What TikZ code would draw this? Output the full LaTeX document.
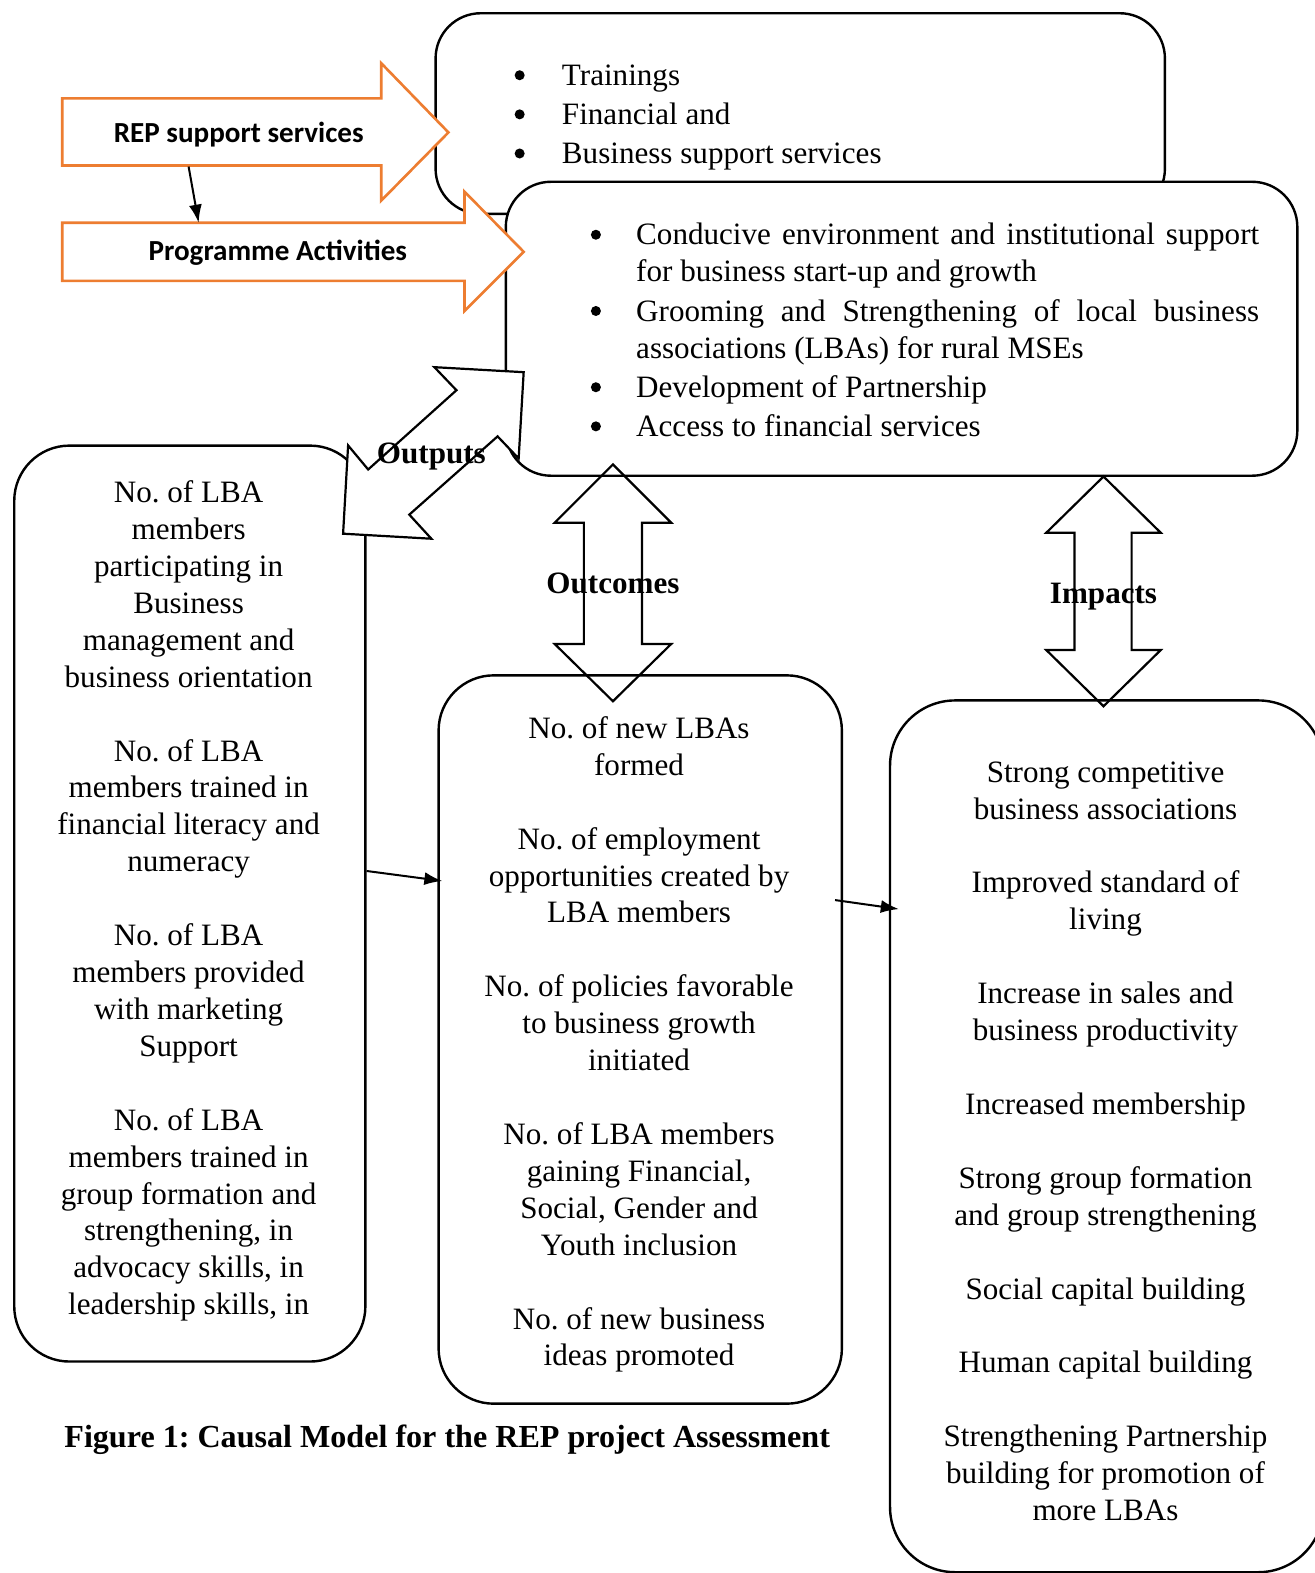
\documentclass[tikz,border=0pt]{standalone}
\usepackage{fontspec}
\setmainfont{Liberation Serif}
\newfontfamily\calibfont{Carlito}
\usetikzlibrary{arrows.meta}
\definecolor{arroworange}{RGB}{237,125,49}
\frenchspacing
\begin{document}
\begin{tikzpicture}[x=1pt,y=-1pt,
  box/.style={draw, line width=2.4pt, rounded corners=#1, inner sep=0pt, anchor=north west},
  box/.default=45pt,
  txt/.style={font=\fontsize{31}{36.8}\selectfont, inner sep=0pt, align=center},
  line/.style={font=\fontsize{31}{36.8}\selectfont, inner sep=0pt},
  dot/.style={circle, fill, inner sep=0pt, minimum size=10pt},
  lbl/.style={font=\fontsize{31}{36.8}\selectfont\bfseries, inner sep=0pt, anchor=base},
  blockarrow/.style={draw, line width=2.2pt, line join=miter},
  orangearrow/.style={draw=arroworange, line width=2.6pt, fill=white, line join=miter},
  orangelbl/.style={font=\fontsize{29}{34}\selectfont\calibfont\bfseries, inner sep=0pt, anchor=base},
  conn/.style={-{Latex[length=18pt,width=13pt]}, line width=2pt}]

\useasboundingbox (0,0) rectangle (1310,1568);

% boxes
\node[box, minimum width=727pt, minimum height=200pt] (topbox) at (433,12) {};
\node[box, fill=white, minimum width=789pt, minimum height=293pt] (actbox) at (503,180) {};
\node[box=55pt, minimum width=350pt, minimum height=913pt] (leftbox) at (13,443) {};
\node[box=55pt, minimum width=402pt, minimum height=726pt] (midbox) at (436,672) {};
\node[box=65pt, minimum width=432pt, minimum height=869pt] (rightbox) at (886,697) {};

% orange block arrows
\draw[orangearrow] (62,98) -- (380,98) -- (380,63) -- (447,132) -- (380,200) -- (380,165) -- (62,165) -- cycle;
\draw[orangearrow] (62,222) -- (463,222) -- (463,191) -- (522,251) -- (463,310) -- (463,280) -- (62,280) -- cycle;
\node[orangelbl] (rep) at (238,142) {REP support services};
\node[orangelbl] (prog) at (277,260) {Programme Activities};
\coordinate (repb) at (188,166);
\coordinate (progt) at (198,222);
\draw[conn] (repb) -- (progt);

% vertical double arrows
\draw[blockarrow] (611,463) -- (669,521) -- (640,521) -- (640,642) -- (669,642) -- (611,699)
  -- (553,642) -- (582,642) -- (582,521) -- (553,521) -- cycle;
\draw[blockarrow] (1100,475) -- (1157,531) -- (1128,531) -- (1128,648) -- (1157,648) -- (1100,704)
  -- (1043,648) -- (1071,648) -- (1071,531) -- (1043,531) -- cycle;

% diagonal outputs arrow
\draw[blockarrow, fill=white] (522,371) -- (433,366) -- (455,389) -- (367,468) -- (347,444) -- (342,532)
  -- (430,537) -- (408,513) -- (496,435) -- (517,457) -- cycle;

% labels
\node[lbl] (outputs) at (430,462) {Outputs};
\node[lbl] (outcomes) at (611,592) {Outcomes};
\node[lbl] (impacts) at (1100,602) {Impacts};

% top box text
\node[dot] (b1) at (518,75) {};
\node[dot] (b2) at (518,114) {};
\node[dot] (b3) at (518,153) {};
\node[line, anchor=base west] (t1) at (560,85) {Trainings};
\node[line, anchor=base west] (t2) at (560,124) {Financial and};
\node[line, anchor=base west] (t3) at (560,163) {Business support services};

% activities box text
\node[dot] (c1) at (594,234) {};
\node[dot] (c3) at (594,310) {};
\node[dot] (c5) at (594,386) {};
\node[dot] (c6) at (594,425) {};
\node[line, anchor=base west] (a1) at (634,244) {\makebox[621pt][s]{Conducive environment and institutional support}};
\node[line, anchor=base west] (a2) at (634,281) {for business start-up and growth};
\node[line, anchor=base west] (a3) at (634,320) {\makebox[621pt][s]{Grooming and Strengthening of local business}};
\node[line, anchor=base west] (a4) at (634,357) {associations (LBAs) for rural MSEs};
\node[line, anchor=base west] (a5) at (634,396) {Development of Partnership};
\node[line, anchor=base west] (a6) at (634,435) {Access to financial services};

% left box text
\node[txt, anchor=north] (lefttext) at (188,479) {No. of LBA\\members\\participating in\\Business\\management and\\business orientation\\[36.8pt]
No. of LBA\\members trained in\\financial literacy and\\numeracy\\[36.8pt]
No. of LBA\\members provided\\with marketing\\Support\\[36.8pt]
No. of LBA\\members trained in\\group formation and\\strengthening, in\\advocacy skills, in\\leadership skills, in};

% middle box text
\node[txt, anchor=north] (midtext) at (637,714) {No. of new LBAs\\formed\\[36.8pt]
No. of employment\\opportunities created by\\LBA members\\[36.8pt]
No. of policies favorable\\to business growth\\initiated\\[36.8pt]
No. of LBA members\\gaining Financial,\\Social, Gender and\\Youth inclusion\\[36.8pt]
No. of new business\\ideas promoted};

% right box text
\node[txt, anchor=north] (righttext) at (1102,759) {Strong competitive\\business associations\\[36.8pt]
Improved standard of\\living\\[36.8pt]
Increase in sales and\\business productivity\\[36.8pt]
Increased membership\\[36.8pt]
Strong group formation\\and group strengthening\\[36.8pt]
Social capital building\\[36.8pt]
Human capital building\\[36.8pt]
Strengthening Partnership\\building for promotion of\\more LBAs};

% connectors
\draw[conn] ([yshift=32.5pt]leftbox.east) -- ([xshift=5pt,yshift=158pt]midbox.west);
\draw[conn] ([xshift=-8pt,yshift=139pt]midbox.east) -- ([xshift=10pt,yshift=226.5pt]rightbox.west);

% caption
\node[lbl, anchor=base west, font=\fontsize{32}{36.8}\selectfont\bfseries] (caption) at (64,1443) {Figure 1: Causal Model for the REP project Assessment};
\end{tikzpicture}
\end{document}
